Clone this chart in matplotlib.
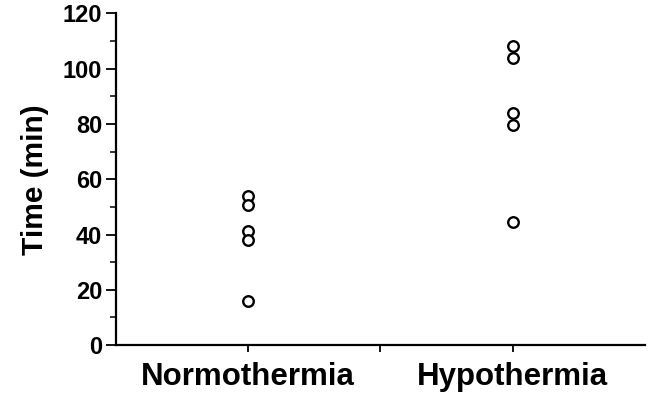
import matplotlib
matplotlib.use("Agg")
import matplotlib.pyplot as plt
from matplotlib.ticker import MultipleLocator

# values
groups = ["Normothermia", "Hypothermia"]
group_pos = [1, 3]
normothermia = [54, 50.7, 41.2, 38, 16]
hypothermia = [108.3, 103.7, 84, 79.6, 44.6]
yticks = [0, 20, 40, 60, 80, 100, 120]

plt.rcParams["font.family"] = ["Liberation Sans", "DejaVu Sans"]
plt.rcParams["font.weight"] = "bold"

fig = plt.figure(figsize=(6.56, 3.94), dpi=100)
ax = fig.add_axes([0.177, 0.124, 0.806, 0.842])

for pos, vals in zip(group_pos, [normothermia, hypothermia]):
    ax.plot([pos] * len(vals), vals, linestyle="none", marker="o",
            markersize=7.6, markerfacecolor="white", markeredgecolor="black",
            markeredgewidth=1.7)

ax.set_xlim(0, 4)
ax.set_ylim(0, 120)
ax.set_xticks([1, 2, 3])
ax.set_xticklabels([groups[0], "", groups[1]], fontsize=22.5, fontweight="bold")
ax.set_yticks(yticks)
ax.set_yticklabels([str(t) for t in yticks], fontsize=17, fontweight="bold")
ax.yaxis.set_minor_locator(MultipleLocator(10))
ax.tick_params(axis="y", which="major", direction="out", length=7, width=1.3, pad=3)
ax.tick_params(axis="y", which="minor", direction="out", length=4, width=1.1)
ax.tick_params(axis="x", which="major", direction="out", length=5, width=1.3, pad=7)

for side in ["top", "right"]:
    ax.spines[side].set_visible(False)
for side in ["left", "bottom"]:
    ax.spines[side].set_linewidth(1.6)

ax.set_ylabel("Time (min)", fontsize=21.5, fontweight="bold", labelpad=10)

fig.savefig("out.png", dpi=100)
